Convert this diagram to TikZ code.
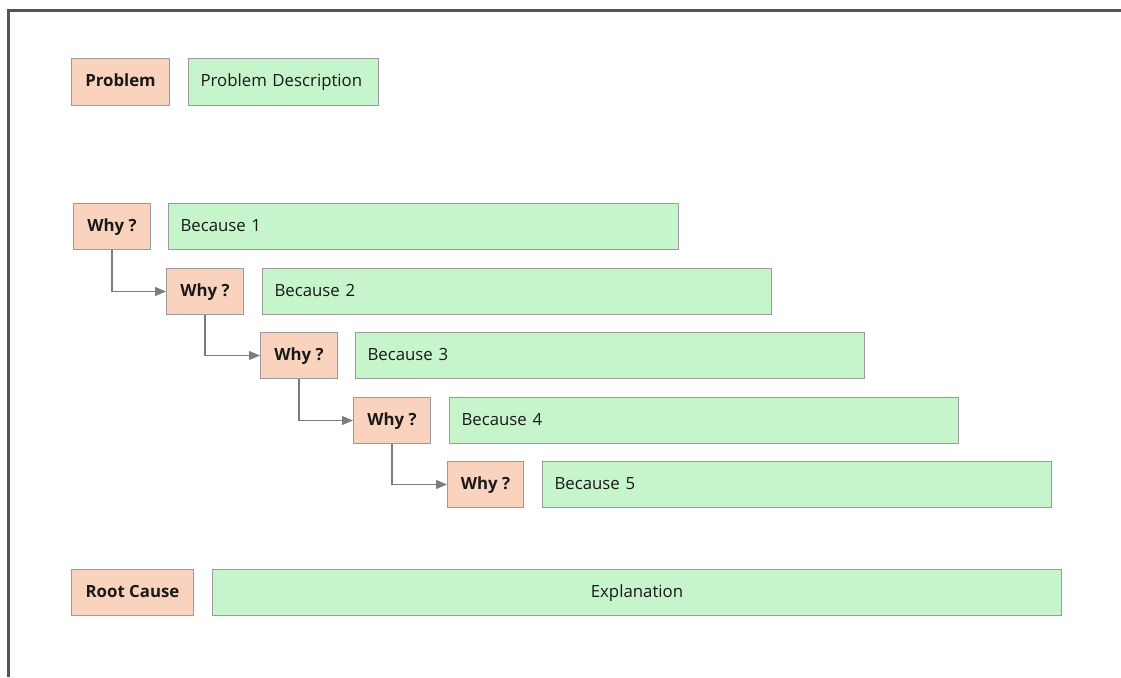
\documentclass[tikz,border=0pt]{standalone}
\usepackage{fontspec}
\setmainfont{Open Sans}
\usetikzlibrary{arrows.meta}
\definecolor{peach}{RGB}{250,211,190}
\definecolor{mint}{RGB}{198,244,203}
\definecolor{edge}{RGB}{155,155,155}
\definecolor{frame}{RGB}{85,85,85}
\definecolor{txt}{RGB}{25,25,25}
\definecolor{conncol}{RGB}{125,125,125}
\tikzset{
  qbox/.style={draw=edge, line width=1pt, fill=peach, anchor=north west, minimum height=46pt, inner sep=0pt, text height=0.92em, text depth=0em, font=\fontsize{16.8}{20}\selectfont\bfseries, text=txt},
  abox/.style={draw=edge, line width=1pt, fill=mint, anchor=north west, minimum height=46pt, inner xsep=12pt, inner ysep=0pt, text height=0.92em, text depth=0em, align=left, font=\fontsize{16.8}{20}\selectfont, text=txt},
  conn/.style={draw=conncol, line width=1.2pt, -{Triangle[length=11pt,width=9pt]}}
}
\begin{document}
\begin{tikzpicture}[x=1pt,y=-1pt]
\useasboundingbox (0,0) rectangle (1121,677);
\draw[frame, line width=3pt] (8.5,677) -- (8.5,10.5) -- (1121,10.5);
% Problem row
\node[qbox, minimum width=98pt, minimum height=47pt] (p) at (71,58) {Problem};
\node[abox, minimum width=190pt, minimum height=47pt, text width=166pt] (pd) at (188,58) {Problem Description};
% Why rows
\node[qbox, minimum width=77pt] (w1) at (73,203) {Why ?};
\node[abox, text width=486pt] (b1) at (168,203) {Because 1};
\node[qbox, minimum width=77pt] (w2) at (166,268) {Why ?};
\node[abox, text width=485pt] (b2) at (262,268) {Because 2};
\node[qbox, minimum width=77pt] (w3) at (260,332) {Why ?};
\node[abox, text width=485pt] (b3) at (355,332) {Because 3};
\node[qbox, minimum width=77pt] (w4) at (353,397) {Why ?};
\node[abox, text width=485pt] (b4) at (449,397) {Because 4};
\node[qbox, minimum width=76pt] (w5) at (447,461) {Why ?};
\node[abox, text width=485pt] (b5) at (542,461) {Because 5};
% Root cause
\node[qbox, minimum width=122pt] (rc) at (71,569) {Root Cause};
\node[abox, minimum width=849pt, inner xsep=0pt, align=center] (ex) at (212,569) {Explanation};
% connectors
\draw[conn] (w1.south) |- (w2.west);
\draw[conn] (w2.south) |- (w3.west);
\draw[conn] (w3.south) |- (w4.west);
\draw[conn] (w4.south) |- (w5.west);
\end{tikzpicture}
\end{document}
